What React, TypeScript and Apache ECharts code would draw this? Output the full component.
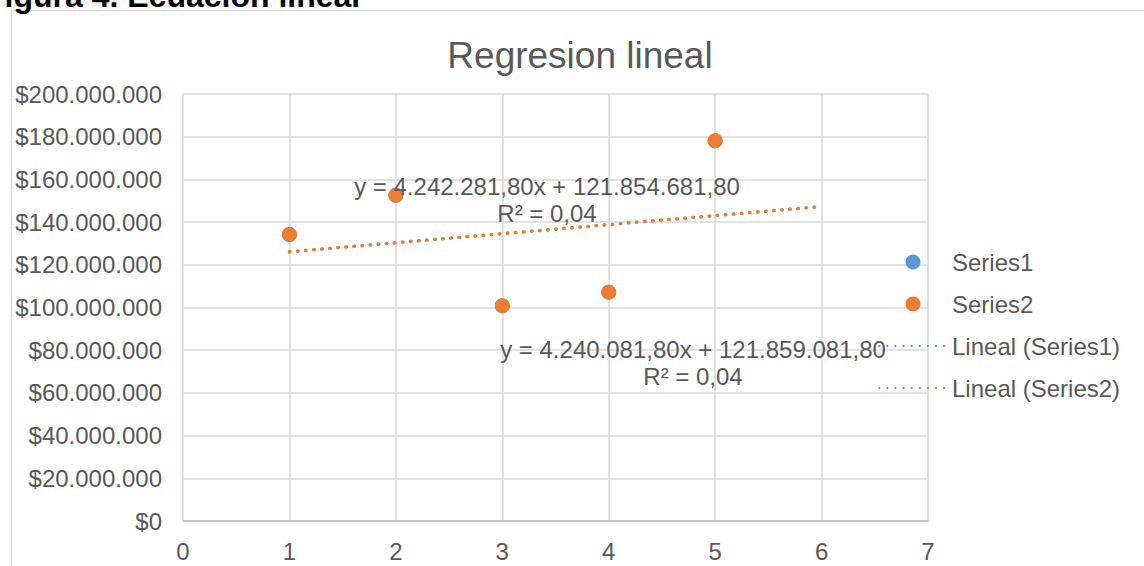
import React, { useEffect, useRef } from "react";
import * as echarts from "echarts";

// ---- data ----
const X_VALUES = [1, 2, 3, 4, 5];
const SERIES1 = [134202200, 152600000, 100797800, 107195600, 178093400];
const SERIES2 = [134200000, 152600000, 100800000, 107200000, 178100000];
const TREND_START = 1;
const TREND_END = 6;
const SERIES_NAMES = ["Series1", "Series2"];
const TREND_NAMES = ["Lineal (Series1)", "Lineal (Series2)"];
const EQ_SERIES1 = ["y = 4.240.081,80x + 121.859.081,80", "R² = 0,04"];
const EQ_SERIES2 = ["y = 4.242.281,80x + 121.854.681,80", "R² = 0,04"];
const CHART_TITLE = "Regresion lineal";
const CAPTION = "Figura 4. Ecuación lineal";
const X_MIN = 0;
const X_MAX = 7;
const X_STEP = 1;
const Y_MIN = 0;
const Y_MAX = 200000000;
const Y_STEP = 20000000;

const BLUE = "#5B9BD5";
const ORANGE = "#ED7D31";
const TEXT = "#595959";
const FONT = "'Liberation Sans', Arial, sans-serif";

function fit(xs: number[], ys: number[]) {
  const n = xs.length;
  const mx = xs.reduce((a, b) => a + b, 0) / n;
  const my = ys.reduce((a, b) => a + b, 0) / n;
  let sxy = 0;
  let sxx = 0;
  for (let i = 0; i < n; i++) {
    sxy += (xs[i] - mx) * (ys[i] - my);
    sxx += (xs[i] - mx) * (xs[i] - mx);
  }
  const slope = sxy / sxx;
  const intercept = my - slope * mx;
  return [
    [TREND_START, intercept + slope * TREND_START],
    [TREND_END, intercept + slope * TREND_END],
  ];
}

function money(v: number) {
  const s = Math.round(v).toString().replace(/\B(?=(\d{3})+(?!\d))/g, ".");
  return "$" + s;
}

export default function App() {
  const ref = useRef<HTMLDivElement>(null);
  useEffect(() => {
    if (!ref.current) return;
    const chart = echarts.init(ref.current, undefined, { renderer: "svg" });
    const dotted = (color: string) => ({
      color,
      width: 3.3,
      type: [0.5, 7.6] as any,
      cap: "round" as const,
    });
    chart.setOption({
      animation: false,
      backgroundColor: "#ffffff",
      textStyle: { fontFamily: FONT },
      title: {
        text: CHART_TITLE,
        left: 575,
        top: 32,
        textAlign: "center",
        textStyle: { fontSize: 37, fontWeight: "normal", color: TEXT, fontFamily: FONT },
      },
      grid: { left: 183, right: 216, top: 94, bottom: 45, containLabel: false },
      xAxis: {
        type: "value",
        min: X_MIN,
        max: X_MAX,
        interval: X_STEP,
        axisLine: { show: true, lineStyle: { color: "#bfbfbf", width: 1.5 } },
        axisTick: { show: false },
        splitLine: { show: true, lineStyle: { color: "#d9d9d9", width: 1.5 } },
        axisLabel: { fontSize: 24, color: TEXT, margin: 18, fontFamily: FONT },
      },
      yAxis: {
        type: "value",
        min: Y_MIN,
        max: Y_MAX,
        interval: Y_STEP,
        axisLine: { show: false },
        axisTick: { show: false },
        splitLine: { show: true, lineStyle: { color: "#d9d9d9", width: 1.5 } },
        axisLabel: { fontSize: 24, color: TEXT, margin: 21, fontFamily: FONT, formatter: money },
      },
      legend: {
        orient: "vertical",
        left: 873,
        top: 245,
        itemWidth: 68,
        itemHeight: 15,
        itemGap: 18,
        textStyle: { fontSize: 24, color: TEXT, fontFamily: FONT },
        data: [
          { name: SERIES_NAMES[0], icon: "circle" },
          { name: SERIES_NAMES[1], icon: "circle" },
          { name: TREND_NAMES[0], itemStyle: { opacity: 0 } },
          { name: TREND_NAMES[1], itemStyle: { opacity: 0 } },
        ],
      },
      graphic: [
        {
          type: "rect",
          shape: { x: 11.5, y: 10.5, width: 1140, height: 600 },
          style: { fill: "none", stroke: "#d9d9d9", lineWidth: 1.5 },
          silent: true,
        },
        {
          type: "text",
          x: -15,
          y: -4,
          style: {
            text: CAPTION,
            fontSize: 32,
            fontWeight: "bold",
            fontFamily: FONT,
            fill: "#000000",
            verticalAlign: "middle",
          },
          silent: true,
        },
        {
          type: "text",
          x: 547,
          y: 200,
          z: 10,
          style: {
            text: EQ_SERIES2.join("\n"),
            fontSize: 24,
            lineHeight: 27,
            fontFamily: FONT,
            fill: TEXT,
            align: "center",
            verticalAlign: "middle",
          },
          silent: true,
        },
        {
          type: "text",
          x: 693,
          y: 363,
          z: 10,
          style: {
            text: EQ_SERIES1.join("\n"),
            fontSize: 24,
            lineHeight: 27,
            fontFamily: FONT,
            fill: TEXT,
            align: "center",
            verticalAlign: "middle",
          },
          silent: true,
        },
      ],
      series: [
        {
          name: SERIES_NAMES[0],
          type: "scatter",
          symbol: "circle",
          symbolSize: 15,
          data: X_VALUES.map((x, i) => [x, SERIES1[i]]),
          itemStyle: { color: BLUE, opacity: 1 },
        },
        {
          name: SERIES_NAMES[1],
          type: "scatter",
          symbol: "circle",
          symbolSize: 15,
          data: X_VALUES.map((x, i) => [x, SERIES2[i]]),
          itemStyle: { color: ORANGE, opacity: 1 },
        },
        {
          name: TREND_NAMES[0],
          type: "line",
          symbol: "none",
          data: fit(X_VALUES, SERIES1),
          lineStyle: dotted(BLUE),
          itemStyle: { color: BLUE },
        },
        {
          name: TREND_NAMES[1],
          type: "line",
          symbol: "none",
          data: fit(X_VALUES, SERIES2),
          lineStyle: dotted(ORANGE),
          itemStyle: { color: ORANGE },
        },
      ],
    });
    return () => chart.dispose();
  }, []);
  return (
    <div
      ref={ref}
      style={{ position: "fixed", left: 0, top: 0, width: 1144, height: 566, background: "#fff" }}
    />
  );
}
